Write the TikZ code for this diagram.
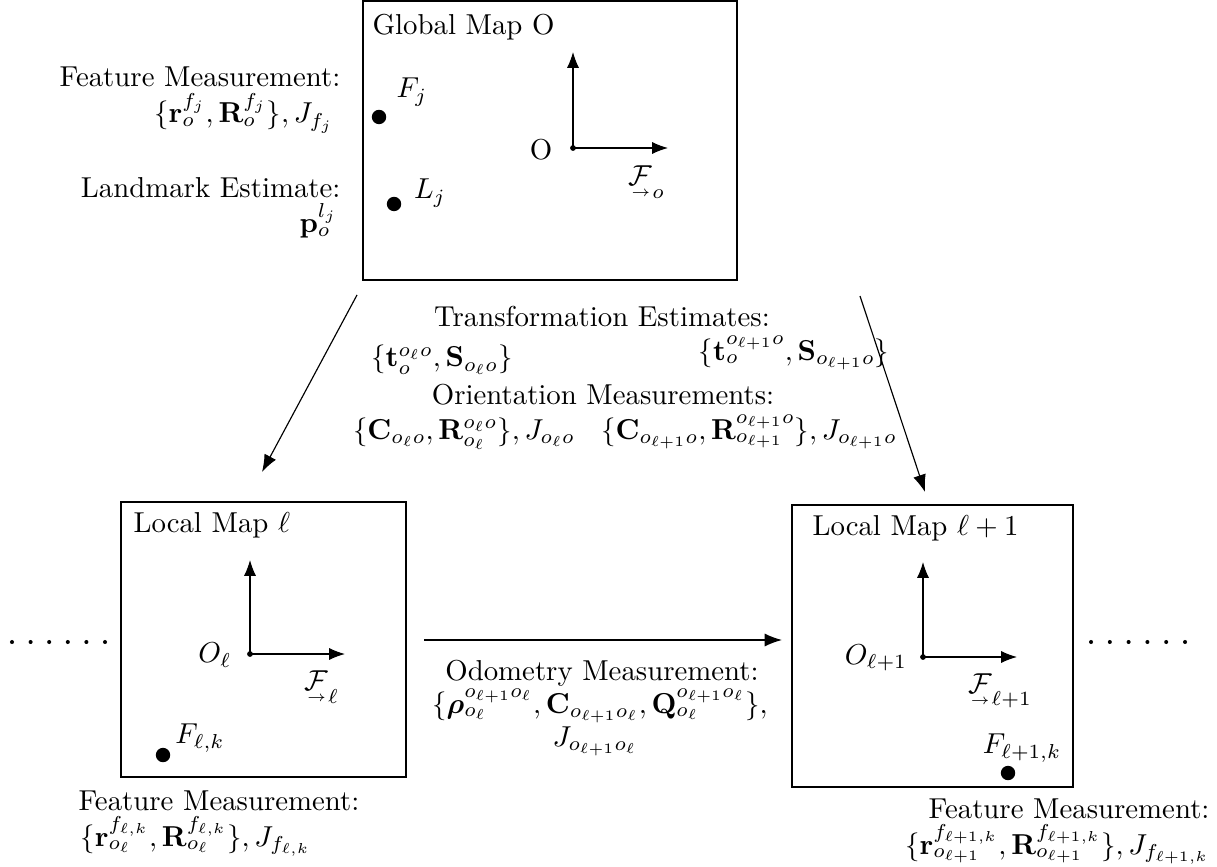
\documentclass[tikz,border=0pt]{standalone}
\usepackage{amsmath,amssymb}
\usetikzlibrary{arrows.meta}
\newcommand{\frm}[1]{\mathcal{#1}\llap{\raisebox{-0.9ex}{$\scriptscriptstyle\rightarrow$}\hspace{0.6pt}}}
\tikzset{
  axis/.style={-{Latex[length=5.5pt,width=4.2pt]}},
  link/.style={-{Latex[length=6pt,width=4.5pt]}},
  lbl/.style={inner sep=0pt}
}
\begin{document}
\begin{tikzpicture}[x=1.22cm,y=1.22cm]
    \useasboundingbox (0,0) rectangle (12.17,-8.67);

    % Global map O
    \draw (3.63,-0.01) rectangle (7.37,-2.80);
    \node[lbl,anchor=base west] (gtitle) at (3.72,-0.35) {Global Map O};
    \coordinate (go) at (5.73,-1.48);
    \coordinate (gy) at (5.73,-0.52);
    \coordinate (gx) at (6.68,-1.48);
    \draw[axis] (go) -- (gy);
    \draw[axis] (go) -- (gx);
    \fill (go) circle (1pt);
    \node[lbl] (gname) at (5.41,-1.50) {O};
    \node[lbl] (gframe) at (6.47,-1.82) {$\frm{F}_o$};
    \fill (3.79,-1.17) coordinate (fj) circle (2.5pt);
    \node[lbl] (fjname) at (4.12,-0.92) {$F_j$};
    \fill (3.94,-2.04) coordinate (lj) circle (2.5pt);
    \node[lbl] (ljname) at (4.30,-1.93) {$L_j$};

    % notes left of the global map
    \node[lbl,anchor=base east] (gfeat) at (3.41,-0.87) {Feature Measurement:};
    \node[lbl,anchor=base east] (gfeatm) at (3.34,-1.23) {$\{\mathbf{r}_o^{f_j},\mathbf{R}_o^{f_j}\},J_{f_j}$};
    \node[lbl,anchor=base east] (gland) at (3.41,-1.98) {Landmark Estimate:};
    \node[lbl,anchor=base east] (glandm) at (3.38,-2.33) {$\mathbf{p}_o^{l_j}$};

    % global to local
    \coordinate (gl) at (3.57,-2.95);
    \coordinate (ll) at (2.62,-4.72);
    \coordinate (gr) at (8.60,-2.96);
    \coordinate (lr) at (9.25,-4.92);
    \draw[link] (gl) -- (ll);
    \draw[link] (gr) -- (lr);
    \node[lbl,anchor=base] (trans) at (6.02,-3.27) {Transformation Estimates:};
    \node[lbl,anchor=base] (transl) at (4.42,-3.67) {$\{\mathbf{t}_o^{o_\ell o},\mathbf{S}_{o_\ell o}\}$};
    \node[lbl,anchor=base] (transr) at (7.94,-3.60) {$\{\mathbf{t}_o^{o_{\ell+1} o},\mathbf{S}_{o_{\ell+1} o}\}$};
    \node[lbl,anchor=base] (orient) at (6.03,-4.04) {Orientation Measurements:};
    \node[lbl,anchor=base] (orientl) at (4.64,-4.39) {$\{\mathbf{C}_{o_\ell o},\mathbf{R}_{o_\ell}^{o_\ell o}\},J_{o_\ell o}$};
    \node[lbl,anchor=base] (orientr) at (7.49,-4.39) {$\{\mathbf{C}_{o_{\ell+1} o},\mathbf{R}_{o_{\ell+1}}^{o_{\ell+1} o}\},J_{o_{\ell+1} o}$};

    % Local map l
    \draw (1.21,-5.02) rectangle (4.06,-7.77);
    \node[lbl,anchor=base west] (atitle) at (1.33,-5.32) {Local Map $\ell$};
    \coordinate (ao) at (2.50,-6.54);
    \coordinate (ay) at (2.50,-5.60);
    \coordinate (ax) at (3.45,-6.54);
    \draw[axis] (ao) -- (ay);
    \draw[axis] (ao) -- (ax);
    \fill (ao) circle (1pt);
    \node[lbl] (aname) at (2.15,-6.55) {$O_\ell$};
    \node[lbl] (aframe) at (3.22,-6.87) {$\frm{F}_\ell$};
    \fill (1.63,-7.55) coordinate (fa) circle (2.5pt);
    \node[lbl] (faname) at (2.00,-7.38) {$F_{\ell,k}$};
    \node[lbl,anchor=base west] (afeat) at (0.78,-8.10) {Feature Measurement:};
    \node[lbl,anchor=base west] (afeatm) at (0.80,-8.46) {$\{\mathbf{r}_{o_\ell}^{f_{\ell,k}},\mathbf{R}_{o_\ell}^{f_{\ell,k}}\},J_{f_{\ell,k}}$};

    % Local map l+1
    \draw (7.92,-5.05) rectangle (10.73,-7.87);
    \node[lbl,anchor=base west] (btitle) at (8.12,-5.35) {Local Map $\ell+1$};
    \coordinate (bo) at (9.23,-6.57);
    \coordinate (by) at (9.23,-5.62);
    \coordinate (bx) at (10.17,-6.57);
    \draw[axis] (bo) -- (by);
    \draw[axis] (bo) -- (bx);
    \fill (bo) circle (1pt);
    \node[lbl] (bname) at (8.76,-6.58) {$O_{\ell+1}$};
    \node[lbl] (bframe) at (10.00,-6.91) {$\frm{F}_{\ell+1}$};
    \fill (10.08,-7.73) coordinate (fb) circle (2.5pt);
    \node[lbl] (fbname) at (10.22,-7.48) {$F_{\ell+1,k}$};
    \node[lbl,anchor=base east] (bfeat) at (12.10,-8.18) {Feature Measurement:};
    \node[lbl,anchor=base east] (bfeatm) at (12.10,-8.54) {$\{\mathbf{r}_{o_{\ell+1}}^{f_{\ell+1,k}},\mathbf{R}_{o_{\ell+1}}^{f_{\ell+1,k}}\},J_{f_{\ell+1,k}}$};

    % odometry
    \coordinate (odl) at (4.24,-6.40);
    \coordinate (odr) at (7.82,-6.40);
    \draw[link] (odl) -- (odr);
    \node[lbl,anchor=base] (odo) at (6.02,-6.80) {Odometry Measurement:};
    \node[lbl,anchor=base] (odom) at (6.00,-7.13) {$\{\boldsymbol{\rho}_{o_\ell}^{o_{\ell+1} o_\ell},\mathbf{C}_{o_{\ell+1} o_\ell},\mathbf{Q}_{o_\ell}^{o_{\ell+1} o_\ell}\},$};
    \node[lbl,anchor=base] (odoj) at (5.95,-7.46) {$J_{o_{\ell+1} o_\ell}$};

    % more maps on either side
    \foreach \x in {0.12,0.306,0.492,0.678,0.864,1.05}
        \fill (\x,-6.42) circle (0.7pt);
    \foreach \x in {10.91,11.098,11.286,11.474,11.662,11.85}
        \fill (\x,-6.42) circle (0.7pt);
\end{tikzpicture}
\end{document}
